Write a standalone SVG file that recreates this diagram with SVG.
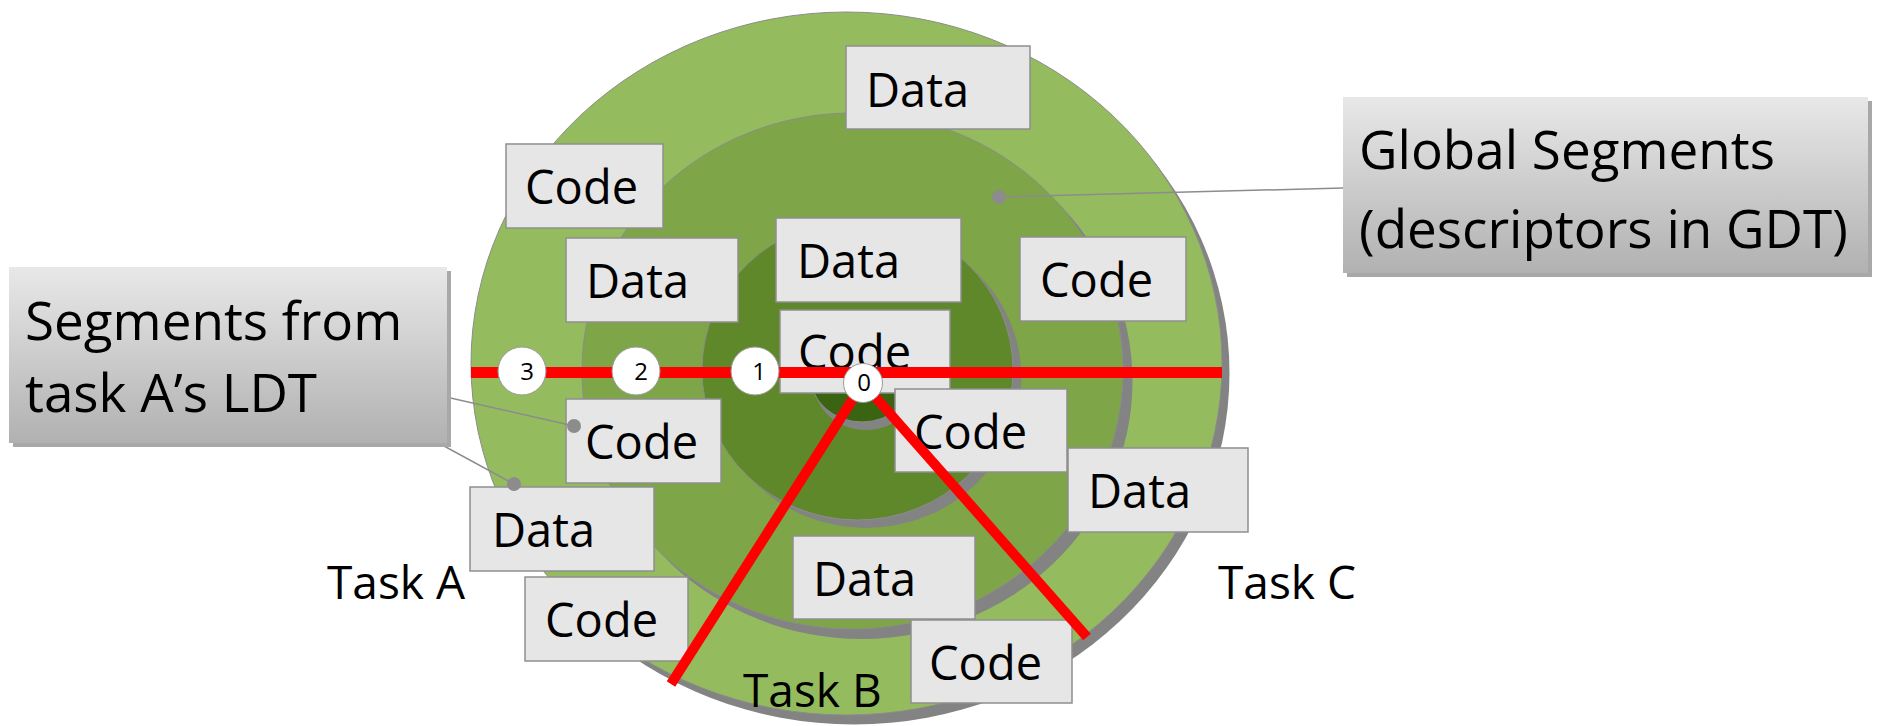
<svg xmlns="http://www.w3.org/2000/svg" width="1878" height="726" viewBox="0 0 1878 726">
  <defs>
    <linearGradient id="calloutFill" x1="0" y1="0" x2="0" y2="1">
      <stop offset="0" stop-color="#E8E8E8"/>
      <stop offset="1" stop-color="#B1B1B1"/>
    </linearGradient>
  </defs>
  <style>
    .ring-shadow { fill: #838383; }
    .ring { stroke: #8C8C8C; stroke-width: 1; }
    .r0 { fill: #94BC5E; }
    .r1 { fill: #7EA548; }
    .r2 { fill: #5E8829; }
    .r3 { fill: #3A6412; }
    .seg rect { fill: #E6E6E6; stroke: #8F8F8F; stroke-width: 1.5; }
    .seg text, .task, .callout text { font-family: "Open Sans", "Liberation Sans", sans-serif; fill: #000; }
    .seg text { font-size: 47px; }
    .task { font-size: 46px; }
    .callout rect.bg { fill: url(#calloutFill); }
    .callout rect.sh { fill: #A8A8A8; }
    .callout text { font-size: 53px; }
    .red { stroke: #FF0000; fill: none; }
    .sel circle { fill: #FFFFFF; stroke: #9A9A9A; stroke-width: 1; }
    .sel text { font-family: "Open Sans", "Liberation Sans", sans-serif; font-size: 24px; fill: #000; text-anchor: middle; }
    .leader { stroke: #8C8C8C; stroke-width: 1.5; fill: none; }
    .dot { fill: #8C8C8C; }
  </style>

  <!-- nested privilege rings -->
  <g id="rings">
    <ellipse class="ring-shadow" cx="854" cy="373" rx="375.5" ry="351.5"/>
    <ellipse class="ring r0" cx="846.5" cy="363.5" rx="375.5" ry="351.5"/>
    <ellipse class="ring-shadow" cx="862" cy="381" rx="270.5" ry="258"/>
    <ellipse class="ring r1" cx="852.5" cy="371" rx="270.5" ry="258"/>
    <ellipse class="ring-shadow" cx="866" cy="378" rx="155.5" ry="150"/>
    <ellipse class="ring r2" cx="857.5" cy="370" rx="155.5" ry="150"/>
    <ellipse class="ring-shadow" cx="866" cy="383" rx="52" ry="47"/>
    <ellipse class="ring r3" cx="862" cy="375" rx="52" ry="47"/>
  </g>

  <!-- segments -->
  <g id="seg-data-1" class="seg"><rect x="846" y="46" width="184" height="83"/><text x="866" y="107">Data</text></g>
  <g id="seg-code-1" class="seg"><rect x="506" y="144" width="157" height="84"/><text x="525" y="204">Code</text></g>
  <g id="seg-data-2" class="seg"><rect x="566" y="238" width="172" height="84"/><text x="586" y="298">Data</text></g>
  <g id="seg-data-3" class="seg"><rect x="776" y="218" width="185" height="84"/><text x="797" y="278">Data</text></g>
  <g id="seg-code-2" class="seg"><rect x="1020" y="237" width="166" height="84"/><text x="1040" y="297">Code</text></g>
  <g id="seg-code-3" class="seg"><rect x="780" y="310" width="170" height="83"/><text x="798" y="369">Code</text></g>
  <g id="seg-code-4" class="seg"><rect x="566" y="399" width="155" height="84"/><text x="585" y="459">Code</text></g>
  <g id="seg-data-4" class="seg"><rect x="470" y="487" width="184" height="84"/><text x="492" y="547">Data</text></g>
  <g id="seg-code-5" class="seg"><rect x="525" y="577" width="163" height="84"/><text x="545" y="637">Code</text></g>
  <g id="seg-code-6" class="seg"><rect x="895" y="389" width="172" height="83"/><text x="914" y="449">Code</text></g>
  <g id="seg-data-5" class="seg"><rect x="1068" y="448" width="180" height="84"/><text x="1088" y="508">Data</text></g>
  <g id="seg-data-6" class="seg"><rect x="793" y="536" width="182" height="83"/><text x="813" y="596">Data</text></g>
  <g id="seg-code-7" class="seg"><rect x="911" y="620" width="161" height="83"/><text x="929" y="680">Code</text></g>

  <!-- task labels -->
  <text id="task-a" class="task" x="327" y="599">Task A</text>
  <text id="task-b" class="task" x="743" y="707">Task B</text>
  <text id="task-c" class="task" x="1218" y="599">Task C</text>

  <!-- task boundaries and privilege axis -->
  <g id="connectors">
    <line class="red" x1="471" y1="372.5" x2="1222" y2="372.5" stroke-width="11"/>
    <line class="red" x1="863" y1="383" x2="671" y2="684" stroke-width="10"/>
    <line class="red" x1="863" y1="383" x2="1087" y2="637" stroke-width="10"/>
    <line class="leader" x1="1343" y1="188" x2="999" y2="197"/>
    <line class="leader" x1="402" y1="387" x2="574" y2="426"/>
    <line class="leader" x1="398" y1="421" x2="514" y2="484"/>
    <circle class="dot" cx="999" cy="197" r="7"/>
    <circle class="dot" cx="574" cy="426" r="7"/>
    <circle class="dot" cx="514" cy="484" r="7"/>
  </g>

  <!-- privilege level markers -->
  <g id="level-3" class="sel"><circle cx="522" cy="371" r="24"/><text x="527" y="380">3</text></g>
  <g id="level-2" class="sel"><circle cx="636" cy="371" r="24"/><text x="641" y="380">2</text></g>
  <g id="level-1" class="sel"><circle cx="755" cy="371" r="24"/><text x="759" y="380">1</text></g>
  <g id="level-0" class="sel"><circle cx="863" cy="383" r="19.5"/><text x="864" y="391">0</text></g>

  <!-- callouts -->
  <g id="callout-ldt" class="callout">
    <rect class="sh" x="13" y="271" width="438" height="176"/>
    <rect class="bg" x="9" y="267" width="438" height="176"/>
    <text x="25" y="340">Segments from</text>
    <text x="25" y="412">task A’s LDT</text>
  </g>
  <g id="callout-gdt" class="callout">
    <rect class="sh" x="1347" y="101" width="525" height="176"/>
    <rect class="bg" x="1343" y="97" width="525" height="176"/>
    <text x="1359" y="169">Global Segments</text>
    <text x="1359" y="248">(descriptors in GDT)</text>
  </g>
</svg>
